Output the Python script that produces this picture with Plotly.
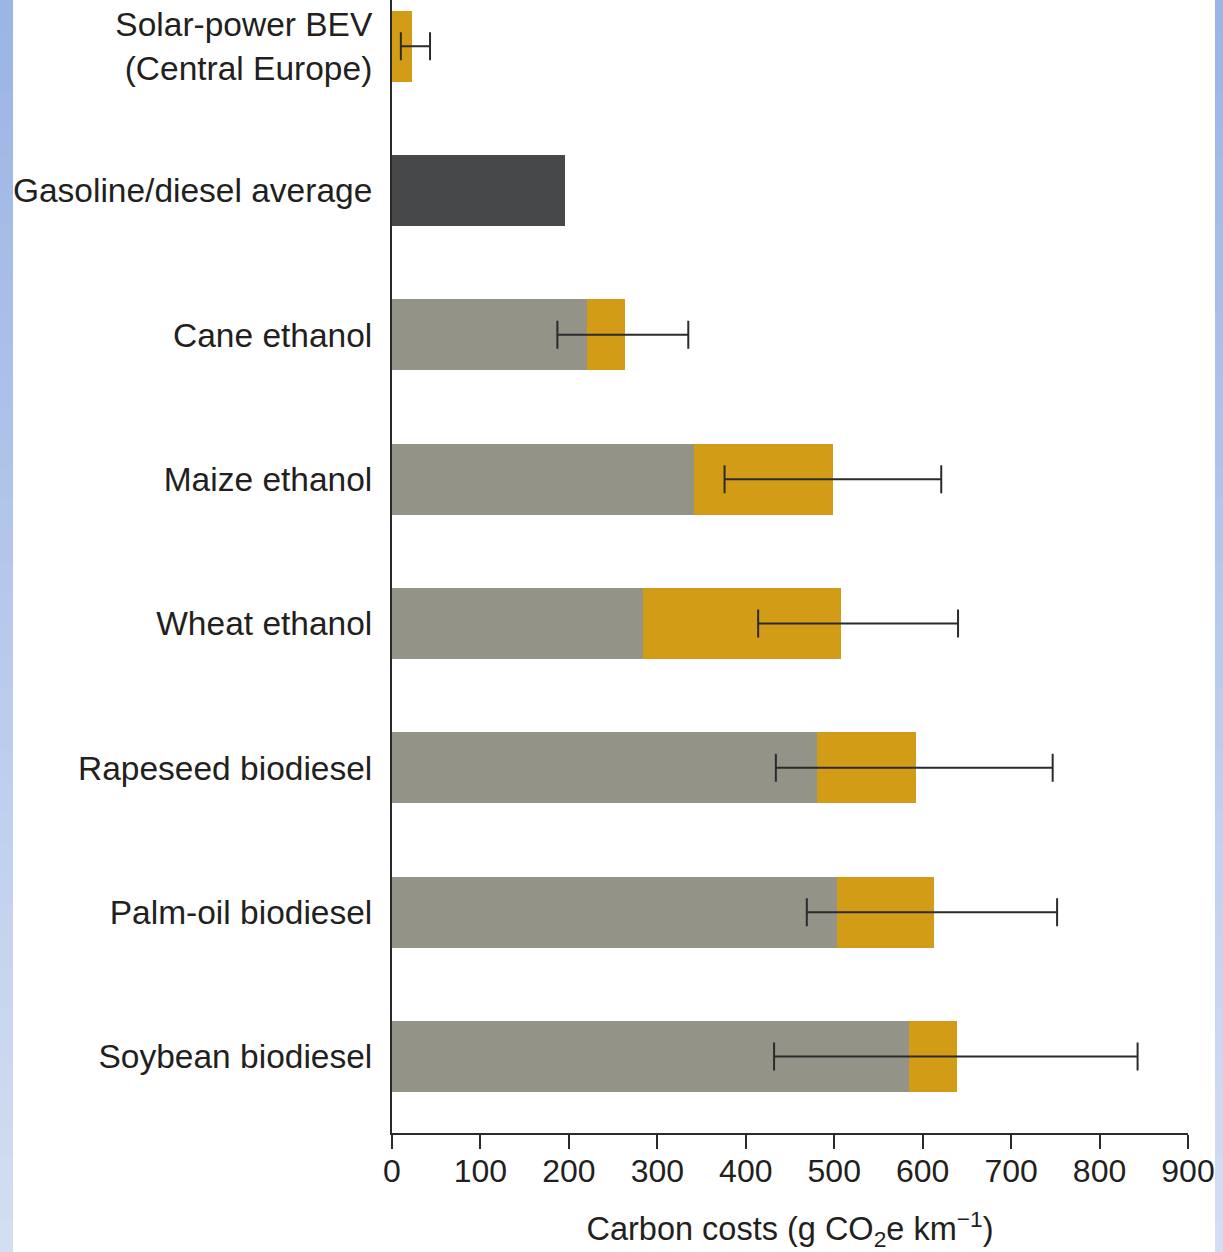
import plotly.graph_objects as go

# ---- data (g CO2e per km) ----
categories = [
    "Solar-power BEV<br>(Central Europe)",
    "Gasoline/diesel average",
    "Cane ethanol",
    "Maize ethanol",
    "Wheat ethanol",
    "Rapeseed biodiesel",
    "Palm-oil biodiesel",
    "Soybean biodiesel",
]
production = [0, 0, 220, 341, 284, 481, 503, 585]          # grey segment
totals = [23, 0, 263, 499, 508, 592, 613, 639]             # grey + orange
fossil = [0, 196, 0, 0, 0, 0, 0, 0]                        # dark bar
err_low = [10, None, 187, 376, 414, 434, 469, 432]
err_high = [43, None, 335, 621, 640, 747, 752, 843]
x_ticks = [0, 100, 200, 300, 400, 500, 600, 700, 800, 900]

# ---- derived ----
ypos = list(range(len(categories)))
orange = [t - p if t else 0 for t, p in zip(totals, production)]
err_y, err_mid, err_half = [], [], []
for i, (lo, hi) in enumerate(zip(err_low, err_high)):
    if lo is None:
        continue
    err_y.append(i)
    err_mid.append((lo + hi) / 2)
    err_half.append((hi - lo) / 2)

W, H = 1223, 1252
ML, MR, MT, MB = 392, 35, 0, 119
FONT = "Liberation Sans, Arial, Helvetica, sans-serif"
TXT = "#231f20"
AX = "#2a2a2a"

fig = go.Figure()
bw = 0.49
fig.add_trace(go.Bar(y=ypos, x=production, orientation="h", width=bw,
                     marker=dict(color="#939487", line=dict(width=0)), showlegend=False))
fig.add_trace(go.Bar(y=ypos, x=orange, orientation="h", width=bw,
                     marker=dict(color="#d39c17", line=dict(width=0)), showlegend=False))
fig.add_trace(go.Bar(y=ypos, x=fossil, orientation="h", width=bw,
                     marker=dict(color="#47484a", line=dict(width=0)), showlegend=False))
fig.add_trace(go.Scatter(
    y=err_y, x=err_mid, mode="markers",
    marker=dict(size=1, color="rgba(0,0,0,0)"),
    error_x=dict(type="data", array=err_half, symmetric=True,
                 color="#2b2b2b", thickness=2, width=14),
    showlegend=False, hoverinfo="skip"))

# gradient side strips (decoration)
pw = W - ML - MR
n = 40
for k in range(n):
    t = k / (n - 1)
    r = int(155 + (212 - 155) * t)
    g = int(181 + (222 - 181) * t)
    b = int(229 + (242 - 229) * t)
    col = f"rgb({r},{g},{b})"
    y1 = 1 + MT / (H - MT - MB) - k * (H / (H - MT - MB)) / n
    y0 = y1 - (H / (H - MT - MB)) / n
    for xa, xb in [(0, 13), (1215, W)]:
        fig.add_shape(type="rect", xref="paper", yref="paper",
                      x0=(xa - ML) / pw, x1=(xb - ML) / pw,
                      y0=y0 - 0.001, y1=y1 + 0.001,
                      fillcolor=col, line=dict(width=0), layer="below")

fig.update_layout(
    width=W, height=H,
    margin=dict(l=ML, r=MR, t=MT, b=MB),
    barmode="stack",
    paper_bgcolor="white", plot_bgcolor="white",
    font=dict(family=FONT, size=33, color=TXT),
    xaxis=dict(
        range=[0, 900], tickvals=x_ticks, ticktext=[str(v) for v in x_ticks],
        showgrid=False, zeroline=False,
        showline=True, linecolor=AX, linewidth=2,
        ticks="outside", ticklen=14, tickwidth=2, tickcolor=AX,
        ticklabelstandoff=-5,
        tickfont=dict(size=32, color=TXT),
        title=dict(text="Carbon costs (g CO<sub>2</sub>e km<sup>−1</sup>)",
                   font=dict(size=32.5, color=TXT), standoff=30),
    ),
    yaxis=dict(
        range=[7.53, -0.32], tickvals=ypos, ticktext=categories,
        showgrid=False, zeroline=False,
        showline=True, linecolor=AX, linewidth=2,
        ticks="", ticklabelstandoff=11,
        tickfont=dict(size=33.5, color=TXT),
    ),
)

fig.write_html("out.html")
